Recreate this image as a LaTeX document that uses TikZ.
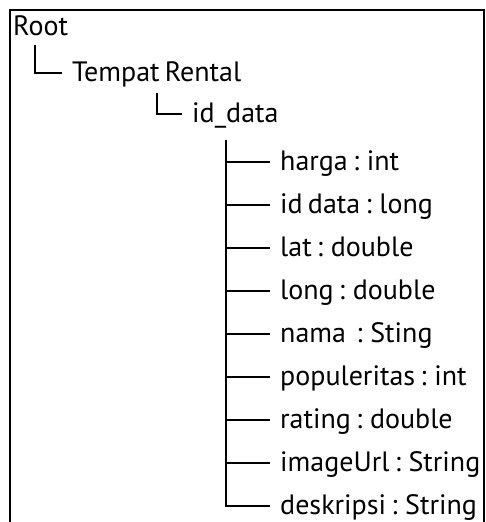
\documentclass[tikz,border=0pt]{standalone}
\usepackage{fontspec}
\setmainfont{PT Sans}[WordSpace=0.7]
\usetikzlibrary{positioning}
\tikzset{
  item/.style   = {anchor=base west, inner xsep=10pt, inner ysep=0pt,
                   text height=21pt, text depth=5pt,
                   font=\fontsize{28}{31}\selectfont},
  branch/.style = {draw=black, line width=1.2pt},
  frame/.style  = {draw=black, line width=1.8pt},
}

\begin{document}
\begin{tikzpicture}[x=1pt, y=-1pt]
  \useasboundingbox (0,0) rectangle (486,522);
  % outer frame, open at the bottom
  \draw[frame] (10,522) |- (484,10) -- (484,522);

  % top of the tree
  \node[item] (root)   at (3,35)    {Root};
  \node[item] (rental) at (62,81)   {Tempat Rental};
  \node[item] (iddata) at (182,122) {id\_data};
  \coordinate (rootleg)   at (35,45);
  \coordinate (rentalleg) at (157,93);
  \draw[branch] (rootleg) |- (rental.west);
  \draw[branch] (rentalleg) |- (iddata.west);

  % fields of id_data
  \coordinate (trunk) at (226,140);
  \foreach \i/\lbl in {1/harga : int, 2/id data : long, 3/lat : double,
                       4/long : double, 5/{nama\ \ : Sting},
                       6/populeritas : int, 7/rating : double,
                       8/imageUrl : String, 9/deskripsi : String} {
    \node[item] (f\i) at (270, {170+43*(\i-1)}) {\lbl};
    \draw[branch] (trunk) |- (f\i.west);
  }
\end{tikzpicture}
\end{document}
